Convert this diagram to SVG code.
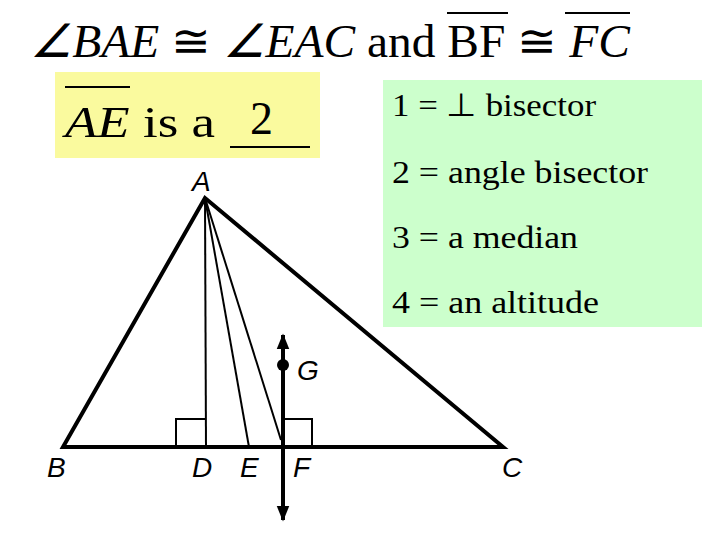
<svg xmlns="http://www.w3.org/2000/svg" width="720" height="540" viewBox="0 0 720 540">
<style>
.t{font-family:"Liberation Serif","Times New Roman",serif;fill:#000}
.i{font-style:italic}
.lbl{font-family:"Liberation Sans",sans-serif;font-style:italic;font-size:28px;fill:#000}
.thick{stroke:#000;stroke-width:4;fill:none}
.thin{stroke:#000;stroke-width:2;fill:none}
</style>
<defs>
<marker id="ar" viewBox="0 0 10 10" refX="9" refY="5" markerWidth="4" markerHeight="6" orient="auto-start-reverse" markerUnits="strokeWidth"><path d="M0,1 L10,5 L0,9 Z" fill="#000"/></marker>
</defs>
<rect width="720" height="540" fill="#fff"/>
<g id="title">
<text class="t" x="30" y="57" font-size="46" textLength="600" lengthAdjust="spacingAndGlyphs"><tspan class="i">∠BAE</tspan> ≅ <tspan class="i">∠EAC</tspan> and BF ≅ <tspan class="i">FC</tspan></text>
<line x1="447" y1="13" x2="508" y2="13" stroke="#000" stroke-width="2"/>
<line x1="565" y1="13" x2="630" y2="13" stroke="#000" stroke-width="2"/>
</g>
<g id="question">
<rect x="55" y="72" width="265" height="86" fill="#fafa9e"/>
<text class="t" x="65" y="137" font-size="44" textLength="150" lengthAdjust="spacingAndGlyphs"><tspan class="i">AE</tspan> is a</text>
<line x1="65" y1="87" x2="130" y2="87" stroke="#000" stroke-width="2"/>
<text class="t" x="250" y="134" font-size="46">2</text>
<line x1="230" y1="147" x2="310" y2="147" stroke="#000" stroke-width="2"/>
</g>
<g id="legend">
<rect x="383" y="80" width="319" height="247" fill="#ccffcc"/>
<text class="t" x="392" y="116" font-size="32" textLength="204" lengthAdjust="spacingAndGlyphs">1 = ⊥ bisector</text>
<text class="t" x="392" y="183" font-size="32" textLength="256" lengthAdjust="spacingAndGlyphs">2 = angle bisector</text>
<text class="t" x="392" y="248" font-size="32" textLength="186" lengthAdjust="spacingAndGlyphs">3 = a median</text>
<text class="t" x="392" y="313" font-size="32" textLength="207" lengthAdjust="spacingAndGlyphs">4 = an altitude</text>
</g>
<g id="triangle">
<path class="thick" d="M205,198 L63,447 L503,447 Z" stroke-linejoin="miter"/>
<line class="thin" x1="205" y1="198" x2="206" y2="447"/>
<line class="thin" x1="205" y1="198" x2="249" y2="447"/>
<line class="thin" x1="205" y1="198" x2="281" y2="440"/>
<path class="thin" d="M176,447 V419 H206"/>
<path class="thin" d="M282,419 H312 V447"/>
</g>
<g id="connectors">
<line x1="283" y1="335" x2="283" y2="520" stroke="#000" stroke-width="4" marker-start="url(#ar)" marker-end="url(#ar)"/>
<circle cx="283" cy="365" r="6" fill="#000"/>
</g>
<g id="labels">
<text class="lbl" x="192" y="191">A</text>
<text class="lbl" x="47" y="477">B</text>
<text class="lbl" x="192" y="477">D</text>
<text class="lbl" x="240" y="477">E</text>
<text class="lbl" x="293" y="477">F</text>
<text class="lbl" x="297" y="380">G</text>
<text class="lbl" x="502" y="477">C</text>
</g>
</svg>
